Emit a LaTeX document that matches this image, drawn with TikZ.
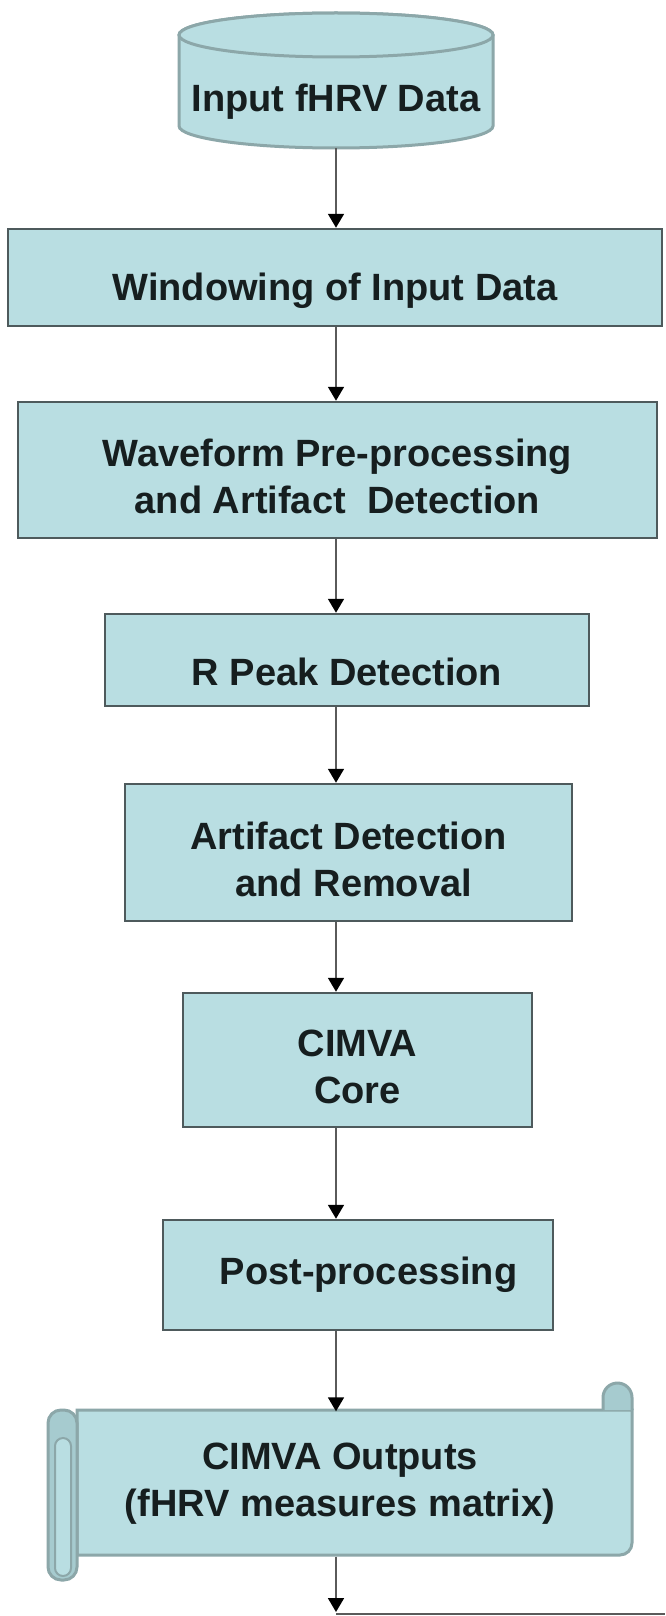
\documentclass[tikz,border=0pt]{standalone}
\usepackage{fontspec}
\setmainfont{Liberation Sans}
\usetikzlibrary{arrows.meta}

\definecolor{boxfill}{HTML}{B9DEE2}
\definecolor{rollfill}{HTML}{A6CBCF}
\definecolor{boxline}{HTML}{4E5A5C}
\definecolor{softline}{HTML}{8CA7A9}
\definecolor{arrowline}{HTML}{5A5A5A}
\definecolor{ink}{HTML}{161E1F}

\begin{document}
\begin{tikzpicture}[x=1pt,y=-1pt,->,>={Triangle[width=16pt,length=14pt,color=black]},
			proc/.style={rectangle,fill=boxfill,draw=boxline,line width=2.5pt,
				font=\fontsize{38}{47}\selectfont\bfseries,text=ink,align=center,inner sep=0pt},
			bare/.style={rectangle,font=\fontsize{38}{47}\selectfont\bfseries,
				text=ink,align=center,inner sep=0pt},
			shell/.style={fill=boxfill,draw=softline,line width=3pt},
			flow/.style={draw=arrowline,line width=1.8pt}]

			\fill[-,white] (0,0) rectangle (665,1616);
			\useasboundingbox (0,0) rectangle (665,1616);

			% data store
			\filldraw[-,shell] (179,35) -- (179,126) arc[start angle=180,end angle=360,x radius=157pt,y radius=22pt]
				-- (493,35) arc[start angle=0,end angle=180,x radius=157pt,y radius=22pt] -- cycle;
			\draw[-,shell] (336,35) ellipse[x radius=157pt,y radius=22pt];
			\node[bare,minimum width=314pt,minimum height=135pt,text height=71pt,text depth=8pt] (inp) at (336,80.5) {Input fHRV Data};

			\node[proc,minimum width=654pt,minimum height=97pt,text height=53pt,text depth=8pt] (win) at (335,277.5) {Windowing of Input Data};
			\node[proc,minimum width=639pt,minimum height=136pt,text height=95pt,text depth=8pt] (wave) at (337.5,470) {Waveform Pre-processing\\and Artifact\ \ Detection};
			\node[proc,minimum width=484pt,minimum height=92pt,text height=58pt,text depth=8pt] (peak) at (347,660) {R Peak Detection};
			\node[proc,minimum width=447pt,minimum height=137pt,text height=95pt,text depth=8pt] (art) at (348.5,852.5) {Artifact Detection\\\ and Removal};
			\node[proc,minimum width=349pt,minimum height=134pt,text height=95pt,text depth=8pt] (core) at (357.5,1060) {CIMVA\\Core};
			\node[proc,minimum width=390pt,minimum height=110pt] (post) at (358,1275) {\ \ Post-processing};

			% output scroll
			\filldraw[-,shell] (77,1410) -- (632,1410) -- (632,1543)
				arc[start angle=0,end angle=-90,radius=12pt] -- (77,1555) -- cycle;
			\filldraw[-,shell,fill=rollfill] (603,1410) -- (603,1397.5) arc[start angle=180,end angle=0,radius=14.5pt] -- (632,1410);
			\filldraw[-,shell,fill=rollfill,rounded corners=13pt] (48,1410) rectangle (77,1580);
			\filldraw[-,shell,line width=2pt,rounded corners=8pt] (55,1438) rectangle (71,1576);
			\node[bare,minimum width=555pt,minimum height=145pt] (out) at (340,1484) {CIMVA Outputs\\(fHRV measures matrix)};

			\coordinate (nxt) at (336,1612);
			\coordinate (rim) at (665,1614);

			\path[every edge/.append style={flow}]
			(inp.south) edge (win.north -| inp)
			(win.south -| inp) edge (wave.north -| inp)
			(wave.south -| inp) edge (peak.north -| inp)
			(peak.south -| inp) edge (art.north -| inp)
			(art.south -| inp) edge (core.north -| inp)
			(core.south -| inp) edge (post.north -| inp)
			(post.south -| inp) edge (out.north -| inp)
			(out.south -| inp) edge (nxt);
			\draw[-,arrowline,line width=1.2pt] (nxt |- rim) -- (rim);
		\end{tikzpicture}
\end{document}
